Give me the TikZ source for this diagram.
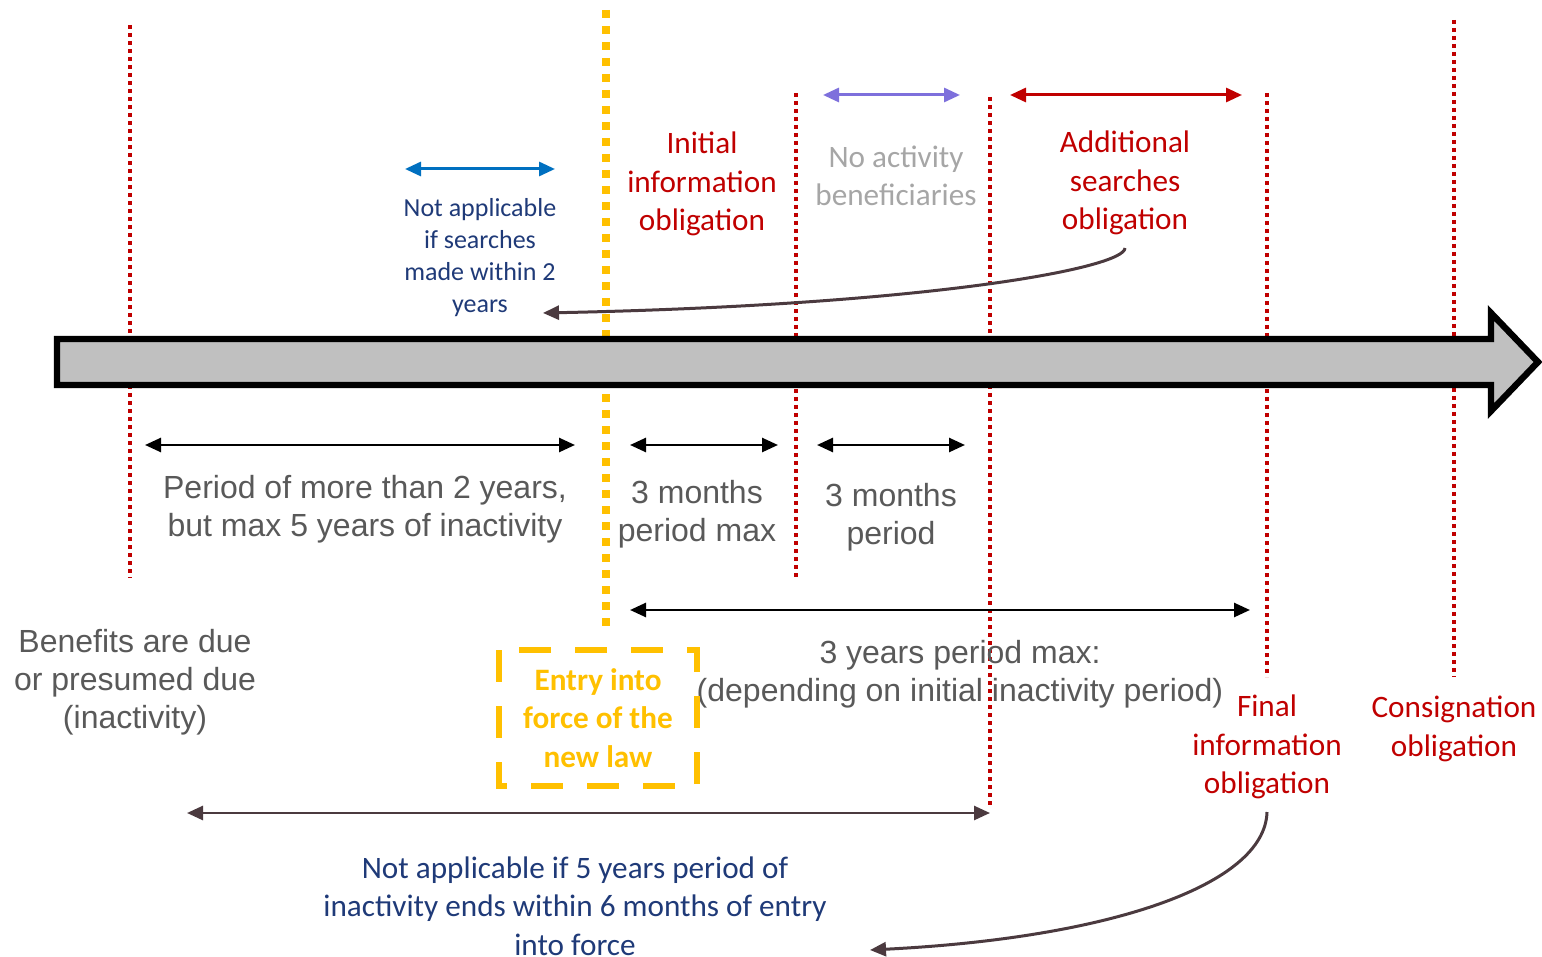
\documentclass[tikz,border=0pt]{standalone}
\usepackage{fontspec}
\setmainfont{Carlito}
\newfontfamily\arialf{Liberation Sans}
\usetikzlibrary{arrows.meta}

\definecolor{dred}{HTML}{C00000}
\definecolor{gold}{HTML}{FFC000}
\definecolor{navy}{HTML}{1F3A78}
\definecolor{txtgray}{HTML}{595959}
\definecolor{ltgray}{HTML}{A6A6A6}
\definecolor{blueA}{HTML}{0070C0}
\definecolor{violetA}{HTML}{7E70DC}
\definecolor{brownA}{HTML}{4B3A3F}
\definecolor{barfill}{HTML}{C0C0C0}

\tikzset{
  reddot/.style={dred, line width=1.9pt, dash pattern=on 1.9pt off 2.1pt},
  golddot/.style={gold, line width=3.75pt, dash pattern=on 4pt off 4pt},
  span/.style={line width=1.3pt, {Triangle[length=8pt,width=7pt]}-{Triangle[length=8pt,width=7pt]}},
  pointer/.style={brownA, line width=1.5pt, -{Triangle[length=8pt,width=7pt]}},
  graytxt/.style={txtgray, align=center, font=\arialf\fontsize{16}{19}\selectfont},
  redtxt/.style={dred, align=center, font=\fontsize{15.6}{19.3}\selectfont},
  navytxt/.style={navy, align=center, font=\fontsize{15.6}{19.3}\selectfont},
}

\begin{document}
\begin{tikzpicture}[x=0.5pt, y=-0.5pt]
\useasboundingbox (0,0) rectangle (1542,957);

% milestone markers
\coordinate (m1t) at (130,25);   \coordinate (m1b) at (130,578);
\coordinate (m2t) at (796,93);   \coordinate (m2b) at (796,577);
\coordinate (m3t) at (990,97);   \coordinate (m3b) at (990,805);
\coordinate (m4t) at (1267,93);  \coordinate (m4b) at (1267,677);
\coordinate (m5t) at (1454,20);  \coordinate (m5b) at (1454,677);
\coordinate (lawt) at (606,10);  \coordinate (lawb) at (606,633);
\draw[reddot] (m1t) -- (m1b);
\draw[reddot] (m2t) -- (m2b);
\draw[reddot] (m3t) -- (m3b);
\draw[reddot] (m4t) -- (m4b);
\draw[reddot] (m5t) -- (m5b);
\draw[golddot] (lawt) -- (lawb);

% time axis
\draw[line width=3.2pt, fill=barfill, miter limit=20]
  (57,339) -- (1491,339) -- (1491,313) -- (1538,362) -- (1491,411)
  -- (1491,385) -- (57,385) -- cycle;

% upper spans
\coordinate (ba) at (405,169); \coordinate (bb) at (555,169);
\draw[span, blueA, line width=1.5pt] (ba) -- (bb);
\coordinate (va) at (823,95); \coordinate (vb) at (960,95);
\draw[span, violetA, line width=1.5pt] (va) -- (vb);
\coordinate (ra) at (1010,95); \coordinate (rb) at (1242,95);
\draw[span, dred, line width=1.5pt] (ra) -- (rb);

% lower spans
\coordinate (k1a) at (145,445); \coordinate (k1b) at (575,445);
\coordinate (k2a) at (630,445); \coordinate (k2b) at (778,445);
\coordinate (k3a) at (817,445); \coordinate (k3b) at (965,445);
\coordinate (k4a) at (630,610); \coordinate (k4b) at (1250,610);
\draw[span] (k1a) -- (k1b);
\draw[span] (k2a) -- (k2b);
\draw[span] (k3a) -- (k3b);
\draw[span] (k4a) -- (k4b);
\coordinate (n1a) at (187,813); \coordinate (n1b) at (990,813);
\draw[span, brownA] (n1a) -- (n1b);

% labels
\node[navytxt, font=\fontsize{13}{16}\selectfont] (nasearch) at (480,258)
  {Not applicable\\if searches\\made within 2\\years};
\node[redtxt] (initial) at (702,184) {Initial\\information\\obligation};
\node[ltgray, align=center, font=\fontsize{15.6}{19.3}\selectfont] (noact) at (896,176)
  {No activity\\beneficiaries};
\node[redtxt] (addl) at (1125,183) {Additional\\searches\\obligation};
\node[graytxt] (period) at (365,509) {Period of more than 2 years,\\but max 5 years of inactivity};
\node[graytxt] (m3a) at (697,514) {3 months\\period max};
\node[graytxt] (m3p) at (891,517) {3 months\\period};
\node[graytxt] (benef) at (135,682) {Benefits are due\\or presumed due\\(inactivity)};
\node[graytxt] (y3) at (960,674) {3 years period max:\\(depending on initial inactivity period)};
\node[redtxt] (final) at (1267,747) {Final\\information\\obligation};
\node[redtxt] (consig) at (1454,729) {Consignation\\obligation};
\node[navytxt] (nabot) at (575,906)
  {Not applicable if 5 years period of\\inactivity ends within 6 months of entry\\into force};

% entry into force box
\draw[gold, line width=3pt, dash pattern=on 16pt off 12pt] (499,650) rectangle (697,786);
\node[gold, align=center, font=\bfseries\fontsize{15.6}{19.3}\selectfont] (entry) at (598,718)
  {Entry into\\force of the\\new law};

% exception pointers
\coordinate (c1s) at (1125,248); \coordinate (c1e) at (543,313);
\draw[pointer] (c1s) .. controls (1125,268) and (930,305) .. (c1e);
\coordinate (c2s) at (1267,812); \coordinate (c2e) at (870,950);
\draw[pointer] (c2s) .. controls (1265,885) and (1110,938) .. (c2e);
\end{tikzpicture}
\end{document}
